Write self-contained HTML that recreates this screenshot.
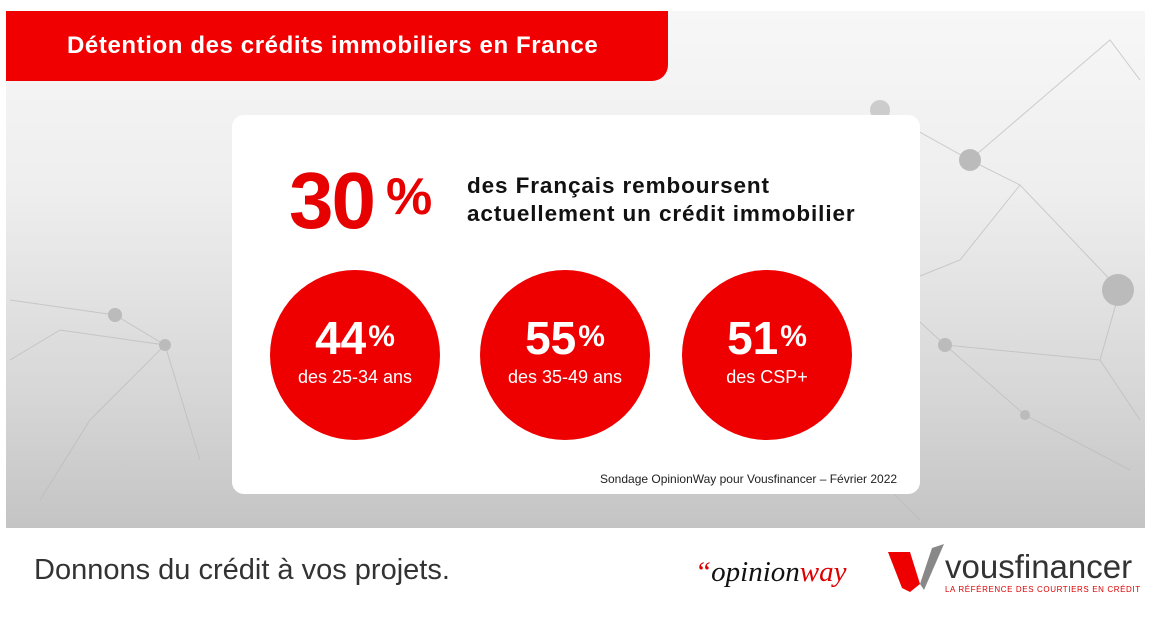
<!DOCTYPE html>
<html><head><meta charset="utf-8"><style>
body{margin:0;width:1156px;height:621px;background:#fff;position:relative;overflow:hidden;font-family:"Liberation Sans","DejaVu Sans",sans-serif}
.bg{position:absolute;left:6px;top:11px;width:1139px;height:517px;background:linear-gradient(#f7f7f7 0%,#eeeeee 35%,#d6d6d6 75%,#c4c4c4 100%)}
.ban{position:absolute;left:6px;top:11px;width:662px;height:70px;background:#f00000;border-radius:0 0 16px 0;color:#fff;font-weight:bold;font-size:24px;letter-spacing:0.6px;line-height:70px;padding-left:61px;box-sizing:border-box}
.card{position:absolute;left:232px;top:115px;width:688px;height:379px;background:#fff;border-radius:12px}
.big{position:absolute;left:289px;top:155px;color:#e60000;font-weight:bold;font-size:80px;letter-spacing:-2px}
.big span{font-size:52px;vertical-align:14px;margin-left:12px}
.sub{position:absolute;left:467px;top:172px;font-weight:bold;font-size:22.5px;letter-spacing:0.9px;line-height:28px;color:#111}
.c{position:absolute;top:270px;width:170px;height:170px;border-radius:50%;background:#ee0000;color:#fff;text-align:center}
.c b{display:block;margin-top:42px;font-size:46px;line-height:50px}
.c b span{font-size:30px;vertical-align:8px;margin-left:2px}
.c i{font-style:normal;font-size:18px;display:block;margin-top:4px}
.src{position:absolute;left:600px;top:472px;font-size:12px;color:#222}
.tag{position:absolute;left:34px;top:554px;font-size:29px;color:#333;font-weight:300}
.ow{position:absolute;left:695px;top:556px;font-family:"Liberation Serif",serif;font-style:italic;font-size:29px;color:#111}
.vf{position:absolute;left:945px;top:548px;font-size:33px;color:#333}
.vs{position:absolute;left:945px;top:585px;font-size:8px;color:#d00;letter-spacing:0.6px}
</style></head><body>
<div class="bg"></div>
<svg style="position:absolute;left:0;top:0" width="1156" height="621">
<g stroke="#bbb" stroke-width="1" fill="none" opacity="0.7">
<polyline points="880,110 970,160 1040,100 1110,40 1140,80"/>
<polyline points="970,160 1020,185 1120,290 1100,360 1140,420"/>
<polyline points="1020,185 960,260 885,290 945,345 1025,415 1130,470"/>
<polyline points="945,345 1100,360"/>
<polyline points="10,300 115,315 165,345 90,420 40,500"/>
<polyline points="10,360 60,330 165,345 200,460"/>
<polyline points="885,290 870,470 920,520"/>
</g>
<g fill="#bbb"><circle cx="970" cy="160" r="11"/><circle cx="1118" cy="290" r="16"/><circle cx="115" cy="315" r="7"/><circle cx="165" cy="345" r="6"/><circle cx="945" cy="345" r="7"/><circle cx="1025" cy="415" r="5"/><circle cx="885" cy="290" r="5"/><circle cx="880" cy="110" r="10" fill="#ccc"/></g>
</svg>
<div class="ban">Détention des crédits immobiliers en France</div>
<div class="card"></div>
<div class="big">30<span>%</span></div>
<div class="sub">des Français remboursent<br>actuellement un crédit immobilier</div>
<div class="c" style="left:270px"><b>44<span>%</span></b><i>des 25-34 ans</i></div>
<div class="c" style="left:480px"><b>55<span>%</span></b><i>des 35-49 ans</i></div>
<div class="c" style="left:682px"><b>51<span>%</span></b><i>des CSP+</i></div>
<div class="src">Sondage OpinionWay pour Vousfinancer – Février 2022</div>
<div class="tag">Donnons du crédit à vos projets.</div>
<div class="ow"><span style="color:#d00">“</span>opinion<span style="color:#d00">way</span></div>
<svg style="position:absolute;left:888px;top:544px" width="56" height="50"><polygon points="0,8 22,8 32,40 22,48 14,44" fill="#e00"/><polygon points="32,40 44,4 56,0 36,46" fill="#888"/></svg>
<div class="vf">vousfinancer</div>
<div class="vs">LA RÉFÉRENCE DES COURTIERS EN CRÉDIT</div>
</body></html>
